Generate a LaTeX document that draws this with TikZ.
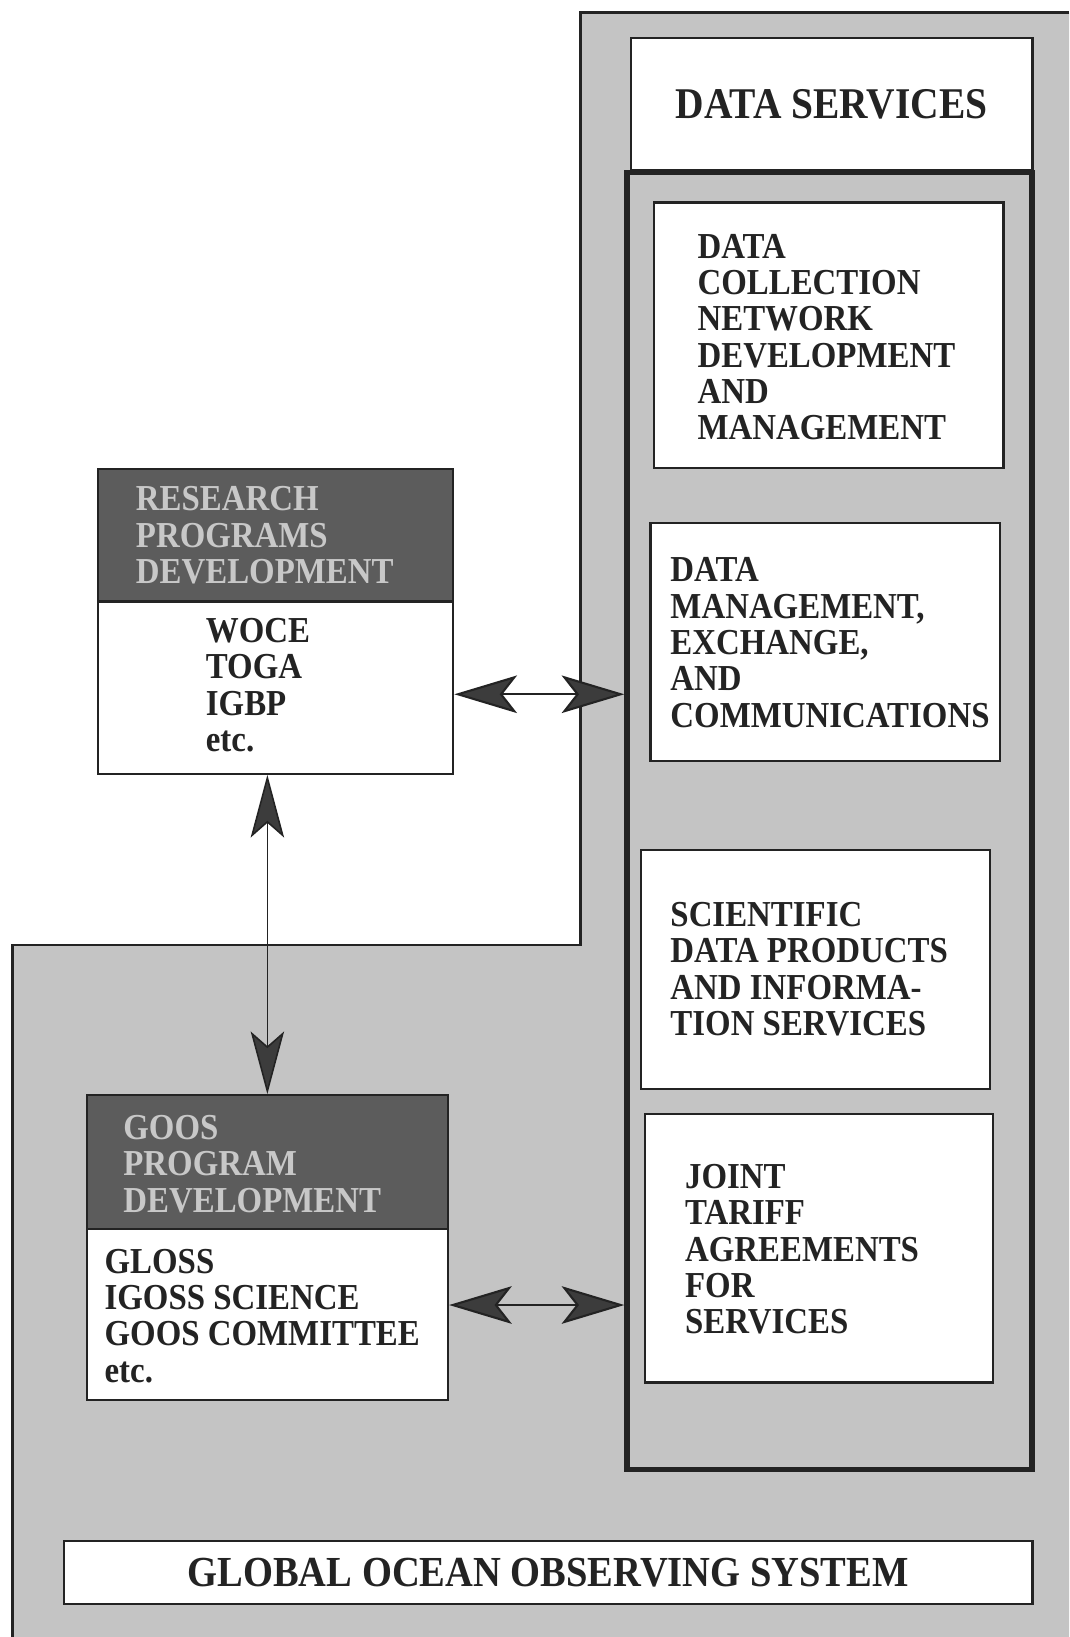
\documentclass[tikz,border=0pt]{standalone}
\usepackage{fontspec}
\setmainfont{Liberation Serif}[FakeStretch=0.9]
\usetikzlibrary{arrows.meta}
\definecolor{bggray}{RGB}{196,196,196}
\definecolor{hdgray}{RGB}{92,92,92}
\definecolor{hdtext}{RGB}{200,200,200}
\definecolor{inkc}{RGB}{35,35,35}
\definecolor{arrowc}{RGB}{60,60,60}
\begin{document}
\begin{tikzpicture}[x=1pt,y=-1pt,
  wbox/.style={draw=inkc, line width=2.2pt, fill=white, anchor=north west, inner sep=0pt},
  hdbox/.style={draw=inkc, line width=2.2pt, fill=hdgray, anchor=north west, inner sep=0pt},
  lbl/.style={font=\fontsize{35}{34.8}\selectfont\bfseries, align=left, anchor=north west, inner sep=0pt, text=inkc},
  hdlbl/.style={lbl, text=hdtext},
  biglbl/.style={font=\fontsize{42}{46}\selectfont\bfseries, inner sep=0pt, text=inkc},
  harrow/.style={draw=inkc, line width=2pt, {Stealth[length=60pt,width=36pt,inset=14pt,fill=arrowc]}-{Stealth[length=60pt,width=36pt,inset=14pt,fill=arrowc]}},
  varrow/.style={draw=inkc, line width=1.5pt, {Stealth[length=60pt,width=32pt,inset=14pt,fill=arrowc]}-{Stealth[length=60pt,width=32pt,inset=14pt,fill=arrowc]}}
]
\useasboundingbox (0,0) rectangle (1024,1568);
\fill[white] (0,0) rectangle (1024,1568);
% gray L-shaped region
\fill[bggray] (556,12) -- (1024,12) -- (1024,1568) -- (12,1568) -- (12,905) -- (556,905) -- cycle;
\draw[inkc, line width=2pt] (1024,12) -- (556,12) -- (556,905) -- (12,905) -- (12,1568);
\draw[inkc, line width=3.5pt] (556,12) -- (1024,12);

% data services header box
\node[wbox, minimum width=385pt, minimum height=127pt] (dsbox) at (603,35) {};
\node[biglbl] (dstext) at (dsbox.center) {DATA SERVICES};

% thick frame
\node[draw=inkc, line width=5pt, fill=bggray, anchor=north west, inner sep=0pt,
      minimum width=388pt, minimum height=1242pt] (frame) at (598,163) {};

% right column boxes
\node[wbox, minimum width=335pt, minimum height=254pt] (dc) at (625,193) {};
\node[lbl] (dctext) at (668,224) {DATA\\COLLECTION\\NETWORK\\DEVELOPMENT\\AND\\MANAGEMENT};

\node[wbox, minimum width=335pt, minimum height=228pt] (dm) at (622,500) {};
\node[lbl] (dmtext) at (642,534) {DATA\\MANAGEMENT,\\EXCHANGE,\\AND\\COMMUNICATIONS};

\node[wbox, minimum width=334pt, minimum height=229pt] (sd) at (613,813) {};
\node[lbl] (sdtext) at (642,864) {SCIENTIFIC\\DATA PRODUCTS\\AND INFORMA-\\TION SERVICES};

\node[wbox, minimum width=333pt, minimum height=257pt] (jt) at (617,1066) {};
\node[lbl] (jttext) at (656,1115) {JOINT\\TARIFF\\AGREEMENTS\\FOR\\SERVICES};

% research programs box
\node[wbox, minimum width=340pt, minimum height=292pt] (rp) at (93,448) {};
\node[hdbox, minimum width=340pt, minimum height=127pt] (rph) at (93,448) {};
\node[hdlbl] (rphtext) at (130,466) {RESEARCH\\PROGRAMS\\DEVELOPMENT};
\node[lbl] (rptext) at (197,592) {WOCE\\TOGA\\IGBP\\etc.};

% goos program box
\node[wbox, minimum width=346pt, minimum height=292pt] (gp) at (82,1048) {};
\node[hdbox, minimum width=346pt, minimum height=128pt] (gph) at (82,1048) {};
\node[hdlbl] (gphtext) at (118,1068) {GOOS\\PROGRAM\\DEVELOPMENT};
\node[lbl] (gptext) at (100,1196) {GLOSS\\IGOSS SCIENCE\\GOOS COMMITTEE\\etc.};

% global ocean observing system box
\node[wbox, minimum width=928pt, minimum height=60pt] (goos) at (60,1475) {};
\node[biglbl, font=\fontsize{41}{45}\selectfont\bfseries] (goostext) at (goos.center) {GLOBAL OCEAN OBSERVING SYSTEM};

% connectors
\draw[harrow] (rp.east |- 0,665) -- (frame.west |- 0,665);
\draw[harrow] (gp.east |- 0,1250) -- (frame.west |- 0,1250);
\draw[varrow] (rp.south -| gp.north) -- (gp.north);
\end{tikzpicture}
\end{document}
